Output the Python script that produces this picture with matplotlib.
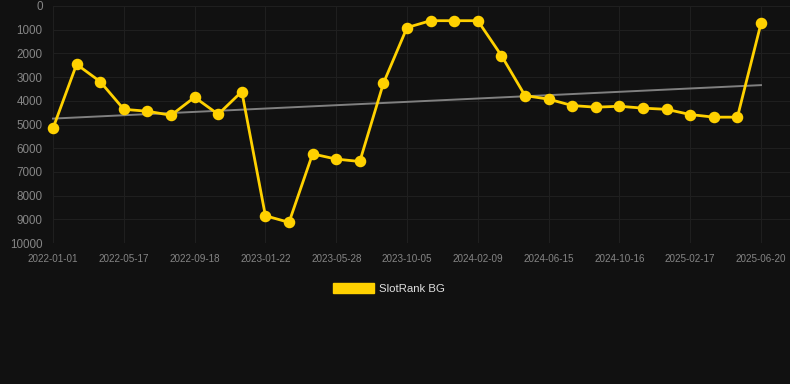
import numpy as np
import matplotlib
matplotlib.use("Agg")
import matplotlib.pyplot as plt
from matplotlib.patches import Patch

# rank values, one per sample (y axis is inverted: lower rank = better)
ranks = [5160, 2460, 3190, 4360, 4440, 4610, 3850, 4570, 3610, 8850,
         9130, 6240, 6460, 6560, 3260, 910, 620, 620, 620, 2090,
         3780, 3930, 4200, 4270, 4230, 4310, 4360, 4580, 4690, 4690,
         730]
# dates shown on the x axis (every 3rd sample)
tick_dates = ["2022-01-01", "2022-05-17", "2022-09-18", "2023-01-22",
              "2023-05-28", "2023-10-05", "2024-02-09", "2024-06-15",
              "2024-10-16", "2025-02-17", "2025-06-20"]
y_ticks = [0, 1000, 2000, 3000, 4000, 5000, 6000, 7000, 8000, 9000, 10000]
series_name = "SlotRank BG"

bg = "#111111"
yellow = "#FFD100"
grid_col = "#1f1f1f"
label_col = "#858585"

plt.rcParams['font.family'] = ['Liberation Sans', 'DejaVu Sans']

fig = plt.figure(figsize=(7.9, 3.84), dpi=100)
fig.patch.set_facecolor(bg)
W, H = 790, 384
ax = fig.add_axes([53/W, 1-243/H, (790-53)/W, (243-6)/H])
ax.set_facecolor(bg)

x = np.arange(len(ranks))
step = 3

# trend line (least squares fit)
k, b = np.polyfit(x, ranks, 1)
ax.plot(x, k*x + b, color="#808080", lw=1.4, zorder=2, clip_on=False)

ax.plot(x, ranks, color=yellow, lw=2.0, marker='o', markersize=7.3,
        zorder=3, clip_on=False)

ax.set_xlim(0, len(ranks) - 1 + 29/23.6)
ax.set_ylim(10000, 0)
ax.set_yticks(y_ticks)
ax.set_yticklabels([str(v) for v in y_ticks])
ax.set_xticks(x[::step])
ax.set_xticklabels(tick_dates)

ax.grid(True, color=grid_col, lw=0.8)
ax.set_axisbelow(True)
for s in ax.spines.values():
    s.set_visible(False)
ax.tick_params(axis='y', length=0, pad=7.5, labelsize=8.4, labelcolor=label_col)
ax.tick_params(axis='x', length=0, pad=8, labelsize=7.1, labelcolor=label_col)

fig.legend(handles=[Patch(facecolor=yellow, edgecolor=yellow)],
           labels=[series_name], loc='upper center',
           bbox_to_anchor=(389/W, 1-273/H), frameon=False,
           handlelength=3.6, handleheight=1.0, handletextpad=0.5,
           fontsize=8.2, labelcolor="#e0e0e0")

fig.savefig("out.png", dpi=100, facecolor=bg)
